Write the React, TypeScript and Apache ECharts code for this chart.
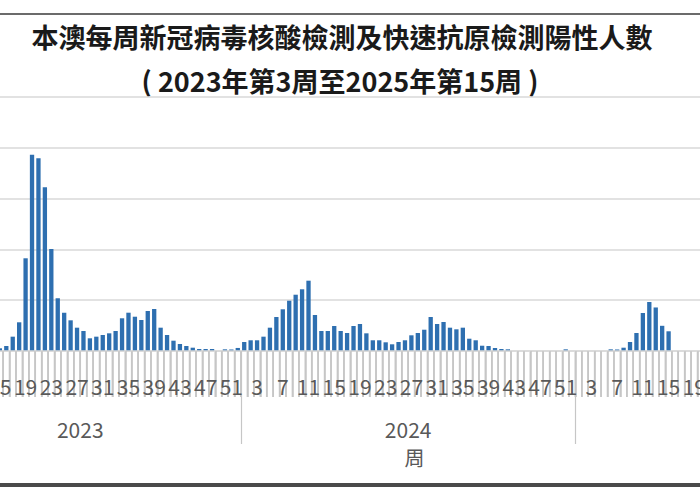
import { useEffect, useRef } from "react";
import * as echarts from "echarts";

const TITLE = "本澳每周新冠病毒核酸檢測及快速抗原檢測陽性人數";
const SUBTITLE = "( 2023年第3周至2025年第15周 )";
const AXIS_NAME = "周";

const YEARS = [2023, 2024, 2025];
const FIRST_WEEK = [3, 1, 1];
const LAST_WEEK = [52, 52, 52];

// weekly positive counts (2023 w3-w14 sit outside the crop)
const cases2023 = [
  120, 80, 60, 40, 30, 30, 25, 25, 30, 35, 40, 45,
  53, 98, 282, 565, 1825, 3865, 3794, 3223, 2008, 1038, 754, 604, 459, 394,
  250, 282, 315, 348, 394, 644, 754, 675, 610, 788, 827, 459, 315, 203,
  138, 98, 65, 39, 39, 39, 0, 33, 30, 60,
];
const cases2024 = [
  177, 211, 211, 282, 459, 669, 821, 990, 1108, 1215, 1384, 709, 394, 394,
  492, 394, 354, 492, 532, 348, 211, 211, 171, 132, 177, 211, 309, 354, 419,
  669, 532, 571, 459, 427, 459, 242, 211, 104, 98, 59, 39, 33,
  0, 0, 0, 0, 0, 0, 0, 0, 33, 0,
];
const cases2025 = [0, 0, 0, 0, 0, 33, 30, 65, 177, 354, 748, 965, 857, 496, 388];

const Y_MAX = 5000;
const Y_STEP = 1000;

function buildCategories() {
  const cats: string[] = [];
  YEARS.forEach((y, k) => {
    for (let w = FIRST_WEEK[k]; w <= LAST_WEEK[k]; w++) cats.push(`${y}-${w}`);
  });
  return cats;
}

function buildValues(total: number) {
  const all: (number | null)[] = [...cases2023, ...cases2024, ...cases2025];
  while (all.length < total) all.push(null);
  return all;
}

export default function App() {
  const ref = useRef<HTMLDivElement | null>(null);

  useEffect(() => {
    if (!ref.current) return;
    const chart = echarts.init(ref.current, undefined, { renderer: "svg" });
    const cats = buildCategories();
    const n = cats.length;
    const sizes = YEARS.map((_, k) => LAST_WEEK[k] - FIRST_WEEK[k] + 1);
    const bounds = [sizes[0], sizes[0] + sizes[1]];
    const mids = [sizes[0] / 2, sizes[0] + sizes[1] / 2, sizes[0] + sizes[1] + sizes[2] / 2];
    const slot = 6.43;
    const gridLeft = 241 - sizes[0] * slot;
    const font = "'Noto Sans CJK TC', 'Noto Sans', sans-serif";
    const tickColor = "#c6c6c6";

    chart.setOption({
      animation: false,
      textStyle: { fontFamily: font },
      grid: [
        { left: gridLeft, top: 97, width: n * slot, height: 254, outerBoundsMode: "none", containLabel: false },
        // strip under the axis for the week tick marks, shifted half a week so
        // that band centres fall on the week boundaries of the main grid
        { left: gridLeft - slot / 2, top: 352, width: n * slot, height: 45, outerBoundsMode: "none", containLabel: false },
      ],
      graphic: [
        { type: "rect", shape: { x: 0, y: 13, width: 700, height: 2 }, style: { fill: "#6b6b6b" } },
        { type: "rect", shape: { x: 0, y: 483, width: 700, height: 4 }, style: { fill: "#4a4a4a" } },
        {
          type: "text",
          x: 342,
          y: 36,
          style: {
            text: TITLE,
            fontSize: 27,
            fontWeight: "bold",
            fontFamily: font,
            fill: "#1a1a1a",
            align: "center",
            verticalAlign: "middle",
          },
        },
        {
          type: "text",
          x: 340,
          y: 80,
          style: {
            text: SUBTITLE,
            fontSize: 27,
            fontWeight: "bold",
            fontFamily: font,
            fill: "#1a1a1a",
            align: "center",
            verticalAlign: "middle",
          },
        },
      ],
      xAxis: [
        {
          type: "category",
          gridIndex: 0,
          data: cats,
          boundaryGap: true,
          axisLine: { show: true, lineStyle: { color: "#d9d9d9", width: 1.5 } },
          axisTick: { show: true, interval: 0, length: 46, lineStyle: { color: tickColor, width: 1.5 } },
          axisLabel: {
            interval: (_i: number, v: string) => Number(v.split("-")[1]) % 4 === 3,
            formatter: (v: string) => v.split("-")[1],
            fontSize: 21,
            color: "#595959",
            margin: 24,
            fontFamily: font,
          },
          z: 5,
        },
        {
          // year level
          type: "value",
          gridIndex: 0,
          min: 0,
          max: n,
          position: "bottom",
          axisLine: { show: false },
          splitLine: { show: false },
          axisTick: {
            show: true,
            customValues: bounds,
            length: 93,
            lineStyle: { color: tickColor, width: 1.2 },
          },
          axisLabel: {
            customValues: mids,
            formatter: (v: number) => String(v < bounds[0] ? YEARS[0] : v < bounds[1] ? YEARS[1] : YEARS[2]),
            fontSize: 21,
            color: "#595959",
            margin: 67,
            fontFamily: font,
          },
          name: AXIS_NAME,
          nameLocation: "middle",
          nameGap: 96,
          nameTextStyle: { fontSize: 20, color: "#595959", fontFamily: font },
        },
        {
          type: "category",
          gridIndex: 1,
          data: cats,
          boundaryGap: true,
          axisLine: { show: false },
          axisTick: { show: false },
          axisLabel: { show: false },
          splitLine: { show: false },
        },
      ],
      yAxis: [
        {
          type: "value",
          gridIndex: 0,
          min: 0,
          max: Y_MAX,
          interval: Y_STEP,
          axisLabel: { show: false },
          axisLine: { show: false },
          axisTick: { show: false },
          splitLine: { lineStyle: { color: "#d9d9d9", width: 1.5 } },
        },
        {
          type: "value",
          gridIndex: 1,
          min: 0,
          max: 1,
          axisLabel: { show: false },
          axisLine: { show: false },
          axisTick: { show: false },
          splitLine: { show: false },
        },
      ],
      series: [
        {
          type: "bar",
          xAxisIndex: 0,
          yAxisIndex: 0,
          data: buildValues(n),
          barCategoryGap: "33%",
          itemStyle: { color: "#2e6fb0" },
        },
        {
          // week tick marks, one thin full-height bar per week boundary
          type: "bar",
          xAxisIndex: 2,
          yAxisIndex: 1,
          silent: true,
          barWidth: 1.6,
          data: cats.map(() => 1),
          itemStyle: { color: tickColor },
        },
      ],
    });

    return () => chart.dispose();
  }, []);

  return (
    <div
      ref={ref}
      style={{ position: "absolute", left: 0, top: 0, width: 700, height: 500, background: "#fff" }}
    />
  );
}
